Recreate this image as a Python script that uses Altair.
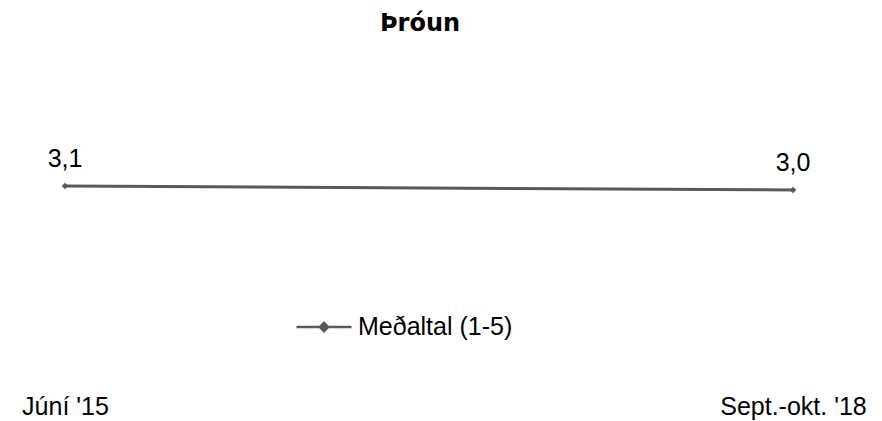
import altair as alt
import pandas as pd

periods = ["Júní '15", "Sept.-okt. '18"]
series = ["Meðaltal (1-5)", "Meðaltal (1-5)"]
values = [3.1, 3.0]

df = pd.DataFrame({"period": periods, "series": series, "value": values})

FONT = "Liberation Sans"
COLOR = "#595959"
FS = 25

x = alt.X("period:N", sort=periods, title=None,
          scale=alt.Scale(type="point", padding=0),
          axis=alt.Axis(domain=False, ticks=False, grid=False, labelAngle=0,
                        labelFont=FONT, labelFontSize=FS, labelColor="#000000",
                        labelBaseline="alphabetic", labelPadding=44))
y = alt.Y("value:Q", title=None, axis=None,
          scale=alt.Scale(domain=[-1.5, 5.5], nice=False, zero=False))

legend_path = "M-1,0H1M0,-0.15L0.15,0L0,0.15L-0.15,0Z"

base = alt.Chart(df)

line = base.mark_line(color=COLOR, strokeWidth=3).encode(
    x=x, y=y,
    color=alt.Color("series:N", scale=alt.Scale(range=[COLOR]), title=None,
                    legend=alt.Legend(orient="none", legendX=230, legendY=208,
                                      symbolType=legend_path, symbolSize=3025,
                                      symbolStrokeWidth=2.5,
                                      symbolFillColor=COLOR, symbolStrokeColor=COLOR,
                                      labelFont=FONT, labelFontSize=FS,
                                      labelColor="#000000", labelOffset=5))
)
pts = base.mark_point(shape="diamond", filled=True, color=COLOR, size=45, opacity=1).encode(x=x, y=y)
labels = base.mark_text(font=FONT, fontSize=FS, color="#000000", baseline="alphabetic", dy=-19).transform_calculate(
    lab="replace(format(datum.value, '.1f'), '.', ',')"
).encode(x=x, y=y, text="lab:N")

chart = alt.layer(line, pts, labels).properties(
    width=728, height=280,
    title=alt.TitleParams("Þróun", font="DejaVu Sans", fontSize=24, fontWeight="bold",
                          color="#000000", anchor="middle", baseline="alphabetic",
                          offset=35, dx=-9),
    padding={"left": 57, "top": 82, "right": 80, "bottom": 50},
    autosize=alt.AutoSizeParams(type="none"),
).configure_view(stroke=None)

chart.save("out.html", embed_options={"renderer": "svg", "actions": False})
